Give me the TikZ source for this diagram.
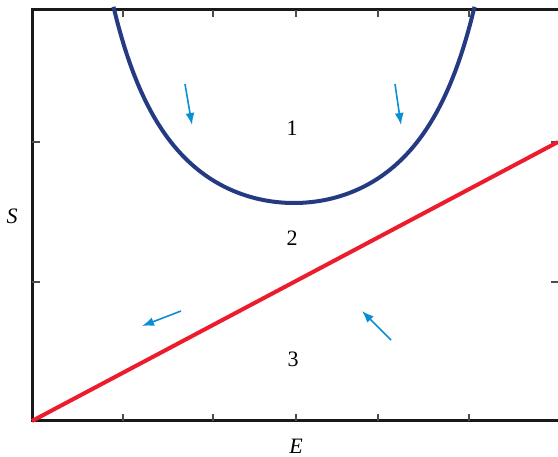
\documentclass[tikz,border=0pt]{standalone}
\usepackage{fontspec}
\setmainfont{Liberation Serif}
\usetikzlibrary{arrows.meta}

\definecolor{curveblue}{HTML}{243A82}
\definecolor{linered}{HTML}{EC1C2C}
\definecolor{flowblue}{HTML}{0A90D2}

\begin{document}
\begin{tikzpicture}[x=1pt, y=-1pt,
  frame/.style={line width=3pt, black!90},
  tick/.style={line width=1.5pt, black!70},
  flow/.style={-{Latex[length=12pt,width=9pt]}, line width=1.6pt, flowblue},
  lbl/.style={font=\fontsize{22}{26}\selectfont, inner sep=0pt}
]
\useasboundingbox (0,0) rectangle (558,457);
\draw[frame] (558,10) -- (32,10) -- (32,421) -- (558,421);
\foreach \x in {123,213,296,378,469} {\draw[tick] (\x,10) -- (\x,17); \draw[tick] (\x,421) -- (\x,414);}
\foreach \y in {142,282} {\draw[tick] (32,\y) -- (40,\y); \draw[tick] (558,\y) -- (551,\y);}
\coordinate (origin) at (32,421);
\coordinate (rend) at (558,142);
\draw[line width=4pt, linered] (origin) -- (rend);
% U-shaped boundary, symmetric about E = 294
\draw[line width=4pt, curveblue, domain=-180.5:180.5, samples=90, smooth]
  plot ({294+\x}, {203-31.2*(\x/100)^2/(1-(\x/260)^2)});
\node[lbl] (r1) at (292,128) {1};
\node[lbl] (r2) at (292,238) {2};
\node[lbl] (r3) at (293,359) {3};
\node[lbl] (ylab) at (12,216) {\textit{S}};
\node[lbl] (xlab) at (296,446) {\textit{E}};
\coordinate (a1s) at (185,84); \coordinate (a1e) at (192,125);
\coordinate (a2s) at (395,84); \coordinate (a2e) at (401,125);
\coordinate (a3s) at (181,311); \coordinate (a3e) at (142,326);
\coordinate (a4s) at (391,340); \coordinate (a4e) at (362,311);
\draw[flow] (a1s) -- (a1e); \draw[flow] (a2s) -- (a2e);
\draw[flow] (a3s) -- (a3e); \draw[flow] (a4s) -- (a4e);
\end{tikzpicture}
\end{document}
